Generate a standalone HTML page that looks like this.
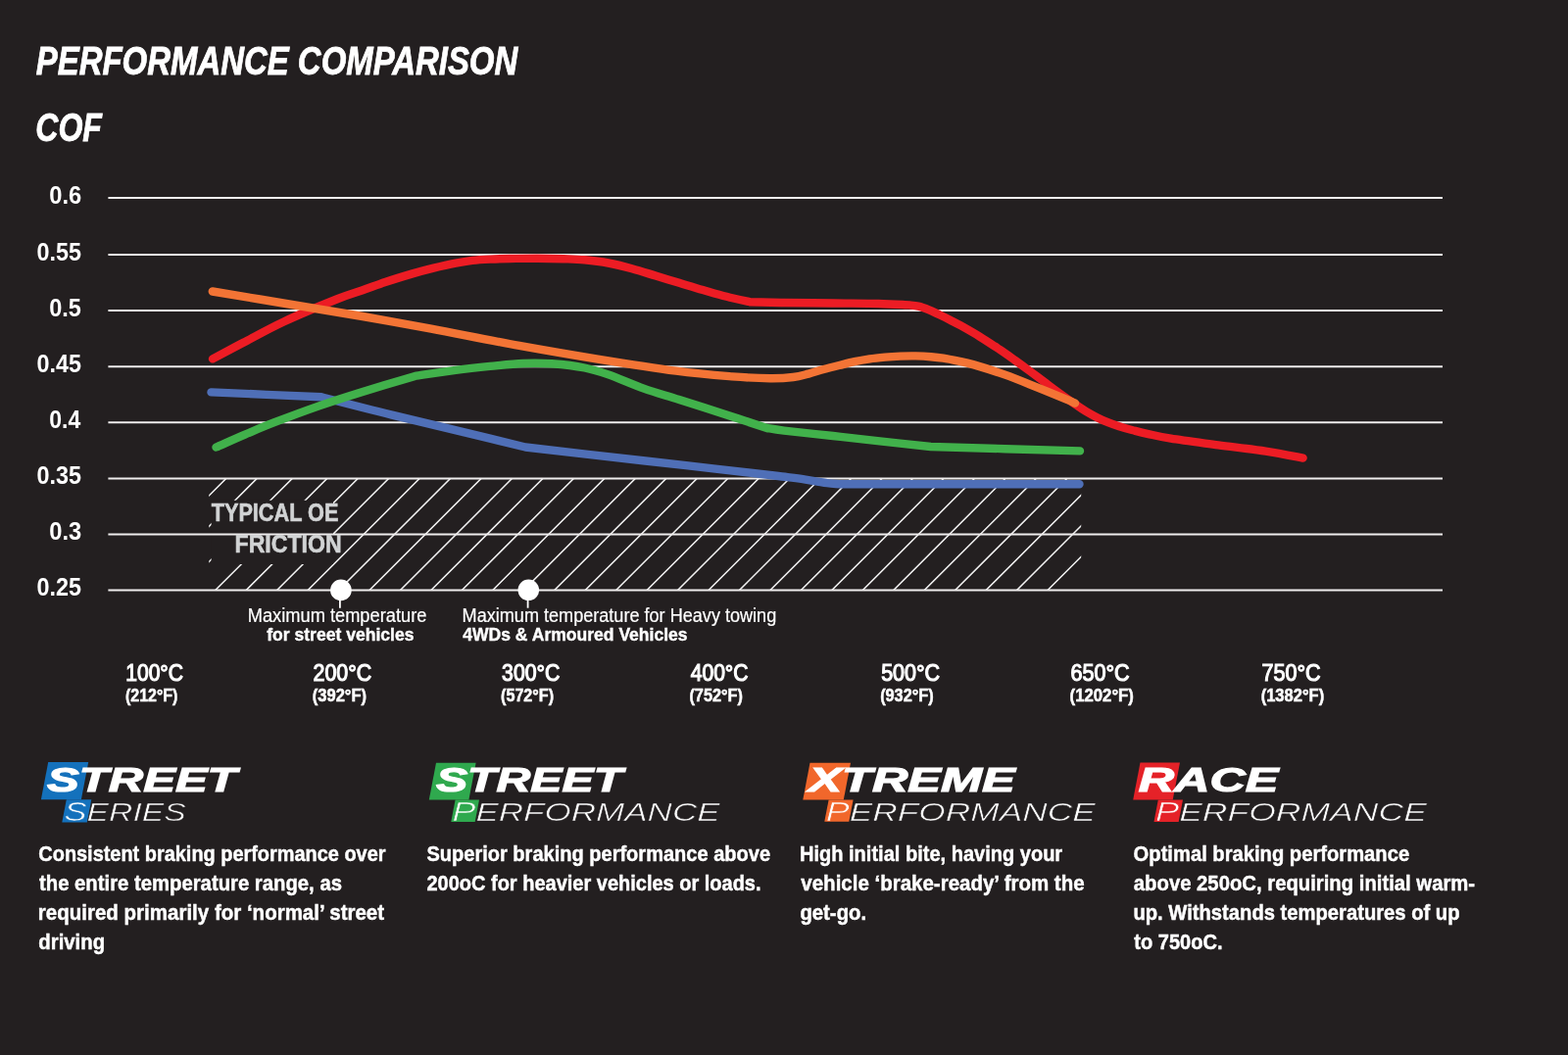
<!DOCTYPE html>
<html lang="en">
<head>
<meta charset="utf-8">
<title>Performance Comparison</title>
<style>
html,body{margin:0;padding:0;background:#231f20;}
body{width:1600px;height:1077px;overflow:hidden;}
svg{display:block;}
text{font-family:"Liberation Sans", sans-serif;white-space:pre;}
</style>
</head>
<body>
<svg width="1600" height="1077" viewBox="0 0 1600 1077">
<defs>
<clipPath id="hatchclip"><rect x="213.2" y="488.1" width="890.0" height="114.4"/></clipPath>
</defs>
<rect width="1600" height="1077" fill="#231f20"/>
<g id="hatch" clip-path="url(#hatchclip)" stroke="#f4f4f4" stroke-width="1.50" fill="none">
<path d="M112.70 606.50L235.10 484.10M144.15 606.50L266.55 484.10M180.20 606.50L302.60 484.10M215.70 606.50L338.10 484.10M247.16 606.50L369.56 484.10M278.61 606.50L401.01 484.10M310.07 606.50L432.47 484.10M341.52 606.50L463.92 484.10M372.98 606.50L495.38 484.10M404.44 606.50L526.84 484.10M435.89 606.50L558.29 484.10M467.35 606.50L589.75 484.10M498.80 606.50L621.20 484.10M530.26 606.50L652.66 484.10M561.72 606.50L684.12 484.10M593.17 606.50L715.57 484.10M624.63 606.50L747.03 484.10M656.08 606.50L778.48 484.10M687.54 606.50L809.94 484.10M719.00 606.50L841.40 484.10M750.45 606.50L872.85 484.10M781.91 606.50L904.31 484.10M813.36 606.50L935.76 484.10M844.82 606.50L967.22 484.10M876.28 606.50L998.68 484.10M907.73 606.50L1030.13 484.10M939.19 606.50L1061.59 484.10M970.64 606.50L1093.04 484.10M1002.10 606.50L1124.50 484.10M1033.56 606.50L1155.96 484.10M1065.01 606.50L1187.41 484.10"/>
</g>
<rect x="215.6" y="510.8" width="124.4" height="65.2" fill="#231f20"/>
<g id="grid" stroke="#efeded" stroke-width="2">
<path d="M110.4 202.00H1472.0"/>
<path d="M110.4 260.00H1472.0"/>
<path d="M110.4 317.10H1472.0"/>
<path d="M110.4 374.20H1472.0"/>
<path d="M110.4 431.20H1472.0"/>
<path d="M110.4 488.40H1472.0"/>
<path d="M110.4 545.50H1472.0"/>
<path d="M110.4 602.55H1472.0"/>
</g>
<g id="curves" fill="none" stroke-width="8.4" stroke-linecap="round" stroke-linejoin="round">
<path id="c-blue" stroke="#4f6fb7" d="M215.5 400.4C234.2 401.2 309.2 404.5 328.0 405.3C340.0 408.4 371.3 416.6 400.0 423.6C428.7 430.7 477.3 442.1 500.0 447.6C522.7 453.1 530.2 455.0 536.2 456.5C546.8 457.7 572.7 460.7 600.0 463.8C627.3 466.9 668.3 471.6 700.0 475.2C731.7 478.8 772.0 483.4 790.0 485.5C808.0 487.6 802.7 486.9 808.0 487.6C813.3 488.3 817.7 488.9 822.0 489.6C826.3 490.3 830.3 491.0 834.0 491.6C837.7 492.2 840.8 492.8 844.0 493.2C847.2 493.6 850.0 493.8 853.0 494.0C856.0 494.2 860.5 494.2 862.0 494.2C901.9 494.2 1061.6 494.2 1101.5 494.2"/>
<path id="c-green" stroke="#41b14b" d="M220.5 456.5C225.4 454.4 240.1 447.8 250.0 443.6C259.9 439.4 267.5 436.0 280.0 431.2C292.5 426.4 310.0 419.8 325.0 414.6C340.0 409.4 353.6 405.1 370.0 400.0C386.4 394.9 414.6 386.6 423.5 383.9C430.4 382.9 452.2 379.5 465.0 377.8C477.8 376.1 488.5 375.0 500.0 373.9C511.5 372.8 523.3 371.4 533.8 371.0C544.3 370.6 552.3 370.6 562.8 371.3C573.2 372.1 586.9 373.6 596.5 375.5C606.1 377.4 610.6 378.9 620.7 382.4C630.8 385.9 644.8 392.3 656.9 396.6C669.0 400.9 679.0 403.5 693.1 408.0C707.2 412.5 726.5 418.7 741.4 423.5C756.3 428.3 775.6 434.8 782.5 437.0C785.4 437.4 788.8 438.3 800.0 439.6C811.2 440.9 833.3 443.2 850.0 445.0C866.7 446.8 883.4 448.8 900.0 450.6C916.6 452.4 941.4 455.1 949.7 456.0C975.1 456.7 1076.6 459.7 1102.0 460.4"/>
<path id="c-red" stroke="#ec1c24" d="M217.0 366.4C222.2 363.6 236.1 356.2 248.3 349.8C260.5 343.4 273.9 335.7 290.0 328.2C306.1 320.7 331.5 310.3 344.8 305.0C358.1 299.7 361.9 299.0 370.0 296.2C378.1 293.4 384.8 290.8 393.1 288.0C401.4 285.2 411.9 282.0 420.0 279.6C428.1 277.2 433.9 275.6 441.4 273.8C448.9 272.0 458.2 269.9 465.0 268.6C471.8 267.3 476.2 266.6 482.0 265.9C487.8 265.2 493.7 264.9 500.0 264.6C506.3 264.3 511.9 264.1 520.0 264.0C528.0 263.9 539.1 263.7 548.3 263.7C557.5 263.7 567.0 263.9 575.0 264.2C583.0 264.5 588.9 264.6 596.5 265.3C604.1 266.0 612.7 267.0 620.7 268.5C628.8 270.0 636.8 272.1 644.8 274.3C652.8 276.5 661.0 279.1 669.0 281.5C677.0 283.9 685.1 286.4 693.1 288.8C701.1 291.2 709.2 293.7 717.2 296.0C725.2 298.3 733.4 300.8 741.4 302.8C749.4 304.9 761.5 307.4 765.5 308.3C771.2 308.4 785.9 308.8 800.0 309.0C814.1 309.2 833.9 309.3 850.0 309.5C866.1 309.7 883.5 309.7 896.5 310.0C909.5 310.3 922.7 311.2 927.9 311.4C929.4 311.6 933.6 311.8 937.0 312.6C940.4 313.4 944.3 314.9 948.0 316.4C951.7 317.9 955.3 319.8 959.0 321.5C962.7 323.2 966.5 325.1 970.0 326.9C973.5 328.7 975.0 329.4 980.0 332.2C985.0 335.0 993.3 339.7 1000.0 343.8C1006.7 347.9 1014.0 352.8 1020.0 356.8C1026.0 360.8 1030.8 364.3 1036.0 368.0C1041.2 371.7 1046.2 375.4 1051.0 379.0C1055.8 382.6 1060.2 385.8 1065.0 389.4C1069.8 393.0 1075.0 397.0 1080.0 400.6C1085.0 404.2 1090.3 408.0 1095.0 411.2C1099.7 414.4 1103.8 417.3 1108.0 419.8C1112.2 422.3 1116.2 424.5 1120.0 426.4C1123.8 428.3 1126.8 429.7 1130.5 431.2C1134.2 432.7 1137.9 434.0 1142.0 435.3C1146.1 436.6 1150.2 437.8 1155.0 439.0C1159.8 440.2 1164.1 441.4 1170.7 442.8C1177.3 444.2 1182.7 445.8 1194.8 447.7C1206.9 449.6 1227.0 452.2 1243.1 454.4C1259.2 456.5 1277.0 458.4 1291.4 460.6C1305.8 462.8 1323.2 466.4 1329.6 467.6"/>
<path id="c-orange" stroke="#f37435" d="M216.8 297.5C229.8 299.7 269.5 306.2 295.0 310.5C320.5 314.8 345.8 318.8 370.0 323.0C394.2 327.2 413.3 330.7 440.0 335.7C466.7 340.7 501.7 347.8 530.0 352.9C558.3 358.0 583.3 362.3 610.0 366.6C636.7 370.9 667.2 375.7 690.0 378.7C712.8 381.7 730.9 383.1 746.9 384.4C762.9 385.6 775.5 386.1 785.9 386.2C796.3 386.3 802.9 385.8 809.4 385.0C815.9 384.2 819.8 382.9 825.0 381.6C830.2 380.3 835.4 378.4 840.6 377.0C845.8 375.6 851.0 374.3 856.2 373.0C861.5 371.7 866.7 370.3 871.9 369.2C877.1 368.1 882.3 367.2 887.5 366.4C892.7 365.6 897.9 365.1 903.1 364.6C908.3 364.1 913.5 363.8 918.8 363.6C924.0 363.4 929.2 363.3 934.4 363.4C939.6 363.5 945.3 363.8 950.0 364.2C954.7 364.6 957.8 364.9 962.5 365.6C967.2 366.3 972.9 367.5 978.1 368.6C983.3 369.7 985.9 370.1 993.8 372.4C1001.6 374.7 1014.6 378.7 1025.0 382.4C1035.4 386.1 1045.8 390.4 1056.2 394.6C1066.7 398.8 1080.7 404.6 1087.5 407.4C1094.3 410.2 1095.4 410.9 1097.0 411.6"/>
</g>
<g id="markers" fill="#fff" stroke="#fff">
<circle cx="347.9" cy="602.4" r="10.8" stroke="none"/>
<path d="M346.9 602.4V620.7" stroke-width="1.8"/>
<circle cx="539.3" cy="602.3" r="10.8" stroke="none"/>
<path d="M538.6 602.3V620.7" stroke-width="1.8"/>
</g>
<g id="logoboxes">
<polygon fill="#1471bc" points="49.2,778.0 90.2,778.0 82.9,816.2 41.9,816.2"/>
<polygon fill="#1471bc" points="67.8,816.2 93.3,816.2 88.8,839.6 63.3,839.6"/>
<polygon fill="#2fa94e" points="445.0,778.8 485.6,778.8 478.4,816.4 437.8,816.4"/>
<polygon fill="#2fa94e" points="464.6,816.4 489.0,816.4 484.7,839.0 460.3,839.0"/>
<polygon fill="#f1672b" points="826.5,778.8 868.0,778.8 860.8,816.4 819.3,816.4"/>
<polygon fill="#f1672b" points="845.6,816.4 870.6,816.4 866.3,838.8 841.3,838.8"/>
<polygon fill="#e52228" points="1163.5,778.5 1204.0,778.5 1196.7,816.4 1156.2,816.4"/>
<polygon fill="#e52228" points="1181.8,816.4 1207.0,816.4 1202.7,839.0 1177.5,839.0"/>
</g>
<g id="texts" fill="#fff">
<text x="36.80" y="75.50" font-size="40.80" textLength="491.46" lengthAdjust="spacingAndGlyphs" font-weight="bold" font-style="italic" stroke="#fff" stroke-width="0.8">PERFORMANCE COMPARISON</text>
<text x="36.32" y="143.70" font-size="40.60" textLength="67.62" lengthAdjust="spacingAndGlyphs" font-weight="bold" font-style="italic" stroke="#fff" stroke-width="0.8">COF</text>
<text x="50.26" y="207.90" font-size="25.00" textLength="32.98" lengthAdjust="spacingAndGlyphs" font-weight="bold">0.6</text>
<text x="37.47" y="265.90" font-size="25.00" textLength="45.51" lengthAdjust="spacingAndGlyphs" font-weight="bold">0.55</text>
<text x="50.26" y="323.00" font-size="25.00" textLength="32.71" lengthAdjust="spacingAndGlyphs" font-weight="bold">0.5</text>
<text x="37.47" y="380.10" font-size="25.00" textLength="45.51" lengthAdjust="spacingAndGlyphs" font-weight="bold">0.45</text>
<text x="50.28" y="437.10" font-size="25.00" textLength="31.98" lengthAdjust="spacingAndGlyphs" font-weight="bold">0.4</text>
<text x="37.47" y="494.30" font-size="25.00" textLength="45.51" lengthAdjust="spacingAndGlyphs" font-weight="bold">0.35</text>
<text x="50.26" y="551.40" font-size="25.00" textLength="32.98" lengthAdjust="spacingAndGlyphs" font-weight="bold">0.3</text>
<text x="37.47" y="608.45" font-size="25.00" textLength="45.51" lengthAdjust="spacingAndGlyphs" font-weight="bold">0.25</text>
<text x="215.70" y="531.90" font-size="24.90" textLength="129.67" lengthAdjust="spacingAndGlyphs" font-weight="bold" fill="#d1d3d4" stroke="#d1d3d4" stroke-width="0.6">TYPICAL OE</text>
<text x="239.59" y="564.00" font-size="24.90" textLength="109.00" lengthAdjust="spacingAndGlyphs" font-weight="bold" fill="#d1d3d4" stroke="#d1d3d4" stroke-width="0.6">FRICTION</text>
<text x="252.69" y="635.20" font-size="19.50" textLength="182.72" lengthAdjust="spacingAndGlyphs" stroke="#fff" stroke-width="0.2">Maximum temperature</text>
<text x="272.20" y="654.30" font-size="19.00" textLength="150.24" lengthAdjust="spacingAndGlyphs" font-weight="bold" stroke="#fff" stroke-width="0.4">for street vehicles</text>
<text x="471.61" y="635.10" font-size="19.50" textLength="320.62" lengthAdjust="spacingAndGlyphs" stroke="#fff" stroke-width="0.2">Maximum temperature for Heavy towing</text>
<text x="472.30" y="654.10" font-size="19.00" textLength="229.25" lengthAdjust="spacingAndGlyphs" font-weight="bold" stroke="#fff" stroke-width="0.4">4WDs &amp; Armoured Vehicles</text>
<text x="128.20" y="694.70" font-size="24.00" textLength="58.85" lengthAdjust="spacingAndGlyphs" stroke="#fff" stroke-width="1.15">100°C</text>
<text x="128.05" y="716.10" font-size="17.50" textLength="53.35" lengthAdjust="spacingAndGlyphs" font-weight="bold" stroke="#fff" stroke-width="0.5">(212°F)</text>
<text x="319.55" y="694.70" font-size="24.00" textLength="59.70" lengthAdjust="spacingAndGlyphs" stroke="#fff" stroke-width="1.15">200°C</text>
<text x="318.73" y="716.10" font-size="17.50" textLength="55.34" lengthAdjust="spacingAndGlyphs" font-weight="bold" stroke="#fff" stroke-width="0.5">(392°F)</text>
<text x="512.08" y="694.70" font-size="24.00" textLength="59.33" lengthAdjust="spacingAndGlyphs" stroke="#fff" stroke-width="1.15">300°C</text>
<text x="511.04" y="716.10" font-size="17.50" textLength="54.02" lengthAdjust="spacingAndGlyphs" font-weight="bold" stroke="#fff" stroke-width="0.5">(572°F)</text>
<text x="704.70" y="694.70" font-size="24.00" textLength="58.81" lengthAdjust="spacingAndGlyphs" stroke="#fff" stroke-width="1.15">400°C</text>
<text x="703.43" y="716.10" font-size="17.50" textLength="54.53" lengthAdjust="spacingAndGlyphs" font-weight="bold" stroke="#fff" stroke-width="0.5">(752°F)</text>
<text x="899.18" y="694.70" font-size="24.00" textLength="59.98" lengthAdjust="spacingAndGlyphs" stroke="#fff" stroke-width="1.15">500°C</text>
<text x="898.13" y="716.10" font-size="17.50" textLength="54.53" lengthAdjust="spacingAndGlyphs" font-weight="bold" stroke="#fff" stroke-width="0.5">(932°F)</text>
<text x="1092.45" y="694.70" font-size="24.00" textLength="60.21" lengthAdjust="spacingAndGlyphs" stroke="#fff" stroke-width="1.15">650°C</text>
<text x="1091.62" y="716.10" font-size="17.50" textLength="65.29" lengthAdjust="spacingAndGlyphs" font-weight="bold" stroke="#fff" stroke-width="0.5">(1202°F)</text>
<text x="1287.45" y="694.70" font-size="24.00" textLength="60.21" lengthAdjust="spacingAndGlyphs" stroke="#fff" stroke-width="1.15">750°C</text>
<text x="1286.63" y="716.10" font-size="17.50" textLength="64.52" lengthAdjust="spacingAndGlyphs" font-weight="bold" stroke="#fff" stroke-width="0.5">(1382°F)</text>
<text x="48.05" y="808.30" font-size="35.30" textLength="193.54" lengthAdjust="spacingAndGlyphs" font-weight="bold" font-style="italic" stroke="#fff" stroke-width="1.20" stroke-linejoin="miter">STREET</text>
<text x="65.64" y="838.00" font-size="26.30" textLength="124.13" lengthAdjust="spacingAndGlyphs" font-style="italic" stroke="#231f20" stroke-width="0.60"><tspan font-size="26.9" stroke="#1471bc">S</tspan>ERIES</text>
<text x="444.94" y="808.30" font-size="35.30" textLength="190.17" lengthAdjust="spacingAndGlyphs" font-weight="bold" font-style="italic" stroke="#fff" stroke-width="1.20" stroke-linejoin="miter">STREET</text>
<text x="461.53" y="838.00" font-size="26.30" textLength="273.04" lengthAdjust="spacingAndGlyphs" font-style="italic" stroke="#231f20" stroke-width="0.60"><tspan font-size="26.9" stroke="#2fa94e">P</tspan>ERFORMANCE</text>
<text x="825.39" y="808.30" font-size="35.30" textLength="210.40" lengthAdjust="spacingAndGlyphs" font-weight="bold" font-style="italic" stroke="#fff" stroke-width="1.20" stroke-linejoin="miter">XTREME</text>
<text x="842.72" y="838.00" font-size="26.30" textLength="275.00" lengthAdjust="spacingAndGlyphs" font-style="italic" stroke="#231f20" stroke-width="0.60"><tspan font-size="26.9" stroke="#f1672b">P</tspan>ERFORMANCE</text>
<text x="1161.70" y="808.30" font-size="35.30" textLength="142.73" lengthAdjust="spacingAndGlyphs" font-weight="bold" font-style="italic" stroke="#fff" stroke-width="1.20" stroke-linejoin="miter">RACE</text>
<text x="1178.91" y="838.00" font-size="26.30" textLength="276.96" lengthAdjust="spacingAndGlyphs" font-style="italic" stroke="#231f20" stroke-width="0.60"><tspan font-size="26.9" stroke="#e52228">P</tspan>ERFORMANCE</text>
<text x="39.33" y="879.20" font-size="22.20" textLength="354.17" lengthAdjust="spacingAndGlyphs" font-weight="bold" stroke="#fff" stroke-width="0.45">Consistent braking performance over</text>
<text x="40.00" y="909.00" font-size="22.20" textLength="308.97" lengthAdjust="spacingAndGlyphs" font-weight="bold" stroke="#fff" stroke-width="0.45">the entire temperature range, as</text>
<text x="38.84" y="938.85" font-size="22.20" textLength="353.26" lengthAdjust="spacingAndGlyphs" font-weight="bold" stroke="#fff" stroke-width="0.45">required primarily for ‘normal’ street</text>
<text x="39.31" y="968.70" font-size="22.20" textLength="67.80" lengthAdjust="spacingAndGlyphs" font-weight="bold" stroke="#fff" stroke-width="0.45">driving</text>
<text x="435.45" y="879.20" font-size="22.20" textLength="350.60" lengthAdjust="spacingAndGlyphs" font-weight="bold" stroke="#fff" stroke-width="0.45">Superior braking performance above</text>
<text x="435.45" y="909.00" font-size="22.20" textLength="341.11" lengthAdjust="spacingAndGlyphs" font-weight="bold" stroke="#fff" stroke-width="0.45">200oC for heavier vehicles or loads.</text>
<text x="815.97" y="879.20" font-size="22.20" textLength="268.21" lengthAdjust="spacingAndGlyphs" font-weight="bold" stroke="#fff" stroke-width="0.45">High initial bite, having your</text>
<text x="817.33" y="909.00" font-size="22.20" textLength="289.27" lengthAdjust="spacingAndGlyphs" font-weight="bold" stroke="#fff" stroke-width="0.45">vehicle ‘brake-ready’ from the</text>
<text x="816.41" y="938.85" font-size="22.20" textLength="67.69" lengthAdjust="spacingAndGlyphs" font-weight="bold" stroke="#fff" stroke-width="0.45">get-go.</text>
<text x="1156.62" y="879.20" font-size="22.20" textLength="281.51" lengthAdjust="spacingAndGlyphs" font-weight="bold" stroke="#fff" stroke-width="0.45">Optimal braking performance</text>
<text x="1156.84" y="909.00" font-size="22.20" textLength="348.28" lengthAdjust="spacingAndGlyphs" font-weight="bold" stroke="#fff" stroke-width="0.45">above 250oC, requiring initial warm-</text>
<text x="1156.39" y="938.85" font-size="22.20" textLength="333.17" lengthAdjust="spacingAndGlyphs" font-weight="bold" stroke="#fff" stroke-width="0.45">up. Withstands temperatures of up</text>
<text x="1157.30" y="968.70" font-size="22.20" textLength="90.29" lengthAdjust="spacingAndGlyphs" font-weight="bold" stroke="#fff" stroke-width="0.45">to 750oC.</text>
</g>
</svg>
</body>
</html>
